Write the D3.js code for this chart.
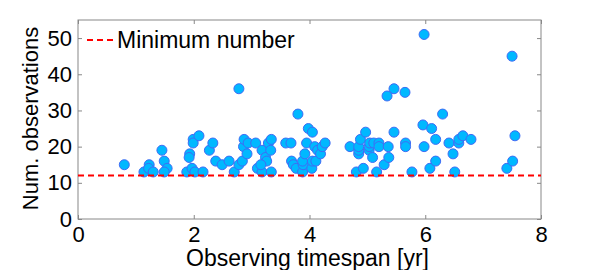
<!DOCTYPE html>
<meta charset="utf-8">
<script src="https://d3js.org/d3.v7.min.js"></script>
<style>
  body { margin: 0; background: #fff; }
  text { font-family: "Liberation Sans", Arial, sans-serif; fill: #000; }
</style>
<body>
<div id="my_visual"></div>
<script>

// Observing timespan [yr] of each object
var timespan = [
  0.80, 1.14, 1.23, 1.22, 1.30, 1.45, 1.49, 1.54, 1.49, 1.88, 1.93, 1.92, 1.99, 1.99, 2.09, 1.97, 2.02,
  2.16, 2.27, 2.33, 2.38, 2.49, 2.61, 2.70, 2.78, 2.84, 2.86, 2.87, 2.92, 2.94, 2.78, 3.07, 3.10, 3.18,
  3.18, 3.24, 3.26, 3.16, 3.29, 3.34, 3.33, 3.34, 3.59, 3.68, 3.69, 3.72, 3.77, 3.80, 3.88, 3.89, 3.88,
  3.92, 3.95, 3.98, 4.05, 4.04, 4.05, 4.11, 4.09, 4.14, 4.19, 4.22, 4.27, 4.70, 4.81, 4.85, 4.85, 4.85,
  4.88, 4.93, 4.97, 5.03, 5.03, 5.04, 5.09, 5.11, 5.16, 5.20, 5.20, 5.29, 5.36, 5.37, 5.46, 5.34, 5.46,
  5.65, 5.66, 5.66, 5.77, 5.96, 5.98, 5.98, 6.11, 6.08, 6.18, 6.18, 6.30, 6.41, 6.48, 6.51, 6.58, 6.58,
  6.65, 6.79, 7.41, 7.51, 7.55, 7.50
];

// Number of observations of each object
var observations = [
  15, 13, 15, 14, 13, 19, 16, 14, 13, 13, 18, 17, 22, 21, 23, 14, 13,
  13, 19, 21, 16, 15, 16, 13, 15, 16, 20, 22, 18, 21, 36, 21, 14, 13,
  19, 17, 16, 15, 21, 22, 19, 13, 21, 21, 16, 15, 14, 29, 13, 15, 16,
  18, 21, 25, 24, 14, 16, 16, 20, 19, 18, 20, 21, 20, 13, 18, 19, 20,
  22, 14, 24, 19, 20, 21, 17, 21, 13, 21, 20, 15, 20, 17, 24, 34, 36,
  35, 21, 20, 13, 26, 20, 51, 25, 14, 22, 16, 29, 21, 18, 13, 21, 22,
  23, 22, 14, 16, 23, 45
];

var minimumNumber = 12;
var xTicks = [0, 2, 4, 6, 8];
var yTicks = [0, 10, 20, 30, 40, 50];

var data = timespan.map(function(t, i) { return {t: t, n: observations[i]}; });

var margin = {top: 20, right: 57, bottom: 51, left: 78},
    width = 598 - margin.left - margin.right,
    height = 270 - margin.top - margin.bottom;

var svg = d3.select("#my_visual")
  .append("svg")
    .attr("width", 598)
    .attr("height", 270)
  .append("g")
    .attr("transform", "translate(" + margin.left + "," + margin.top + ")");

var x = d3.scaleLinear().domain([0, 8]).range([0, width]);
var y = d3.scaleLinear().domain([0, 55]).range([height, 0]);

// frame
svg.append("rect")
  .attr("width", width).attr("height", height)
  .attr("fill", "none").attr("stroke", "#888").attr("stroke-width", 1);

// inward ticks on all four sides
function ticks(g) {
  g.select(".domain").remove();
  g.selectAll(".tick line").attr("stroke", "#888");
}
svg.append("g")
  .attr("transform", "translate(0," + height + ")")
  .call(d3.axisBottom(x).tickValues(xTicks).tickSize(-4).tickPadding(7))
  .call(ticks)
  .selectAll("text").style("font-size", "22px")
    .attr("font-family", "Liberation Sans, Arial, sans-serif");
svg.append("g")
  .call(d3.axisTop(x).tickValues(xTicks).tickSize(-4).tickFormat(""))
  .call(ticks);
svg.append("g")
  .call(d3.axisLeft(y).tickValues(yTicks).tickSize(-4).tickPadding(6))
  .call(ticks)
  .selectAll("text").style("font-size", "22px")
    .attr("font-family", "Liberation Sans, Arial, sans-serif");
svg.append("g")
  .attr("transform", "translate(" + width + ",0)")
  .call(d3.axisRight(y).tickValues(yTicks).tickSize(-4).tickFormat(""))
  .call(ticks);

// axis titles
svg.append("text")
  .attr("text-anchor", "middle")
  .attr("x", width / 2 - 2)
  .attr("y", height + 47)
  .style("font-size", "23px")
  .text("Observing timespan [yr]");

svg.append("text")
  .attr("text-anchor", "middle")
  .attr("transform", "rotate(-90)")
  .attr("x", -height / 2 + 1)
  .attr("y", -40)
  .style("font-size", "22px")
  .text("Num. observations");

// dots
svg.append("g")
  .selectAll("circle")
  .data(data)
  .enter()
  .append("circle")
    .attr("cx", function(d) { return x(d.t); })
    .attr("cy", function(d) { return y(d.n); })
    .attr("r", 5)
    .attr("fill", "#00b8ff")
    .attr("stroke", "#3f6cf5")
    .attr("stroke-width", 1);

// minimum number line
svg.append("line")
  .attr("x1", 0).attr("x2", width)
  .attr("y1", y(minimumNumber)).attr("y2", y(minimumNumber))
  .attr("stroke", "#f00").attr("stroke-width", 2)
  .attr("stroke-dasharray", "6,4");

// legend
svg.append("line")
  .attr("x1", 9).attr("x2", 37)
  .attr("y1", 20).attr("y2", 20)
  .attr("stroke", "#f00").attr("stroke-width", 2)
  .attr("stroke-dasharray", "6,4");
svg.append("text")
  .attr("x", 39).attr("y", 28)
  .style("font-size", "23px")
  .text("Minimum number");

</script>
</body>
</html>
